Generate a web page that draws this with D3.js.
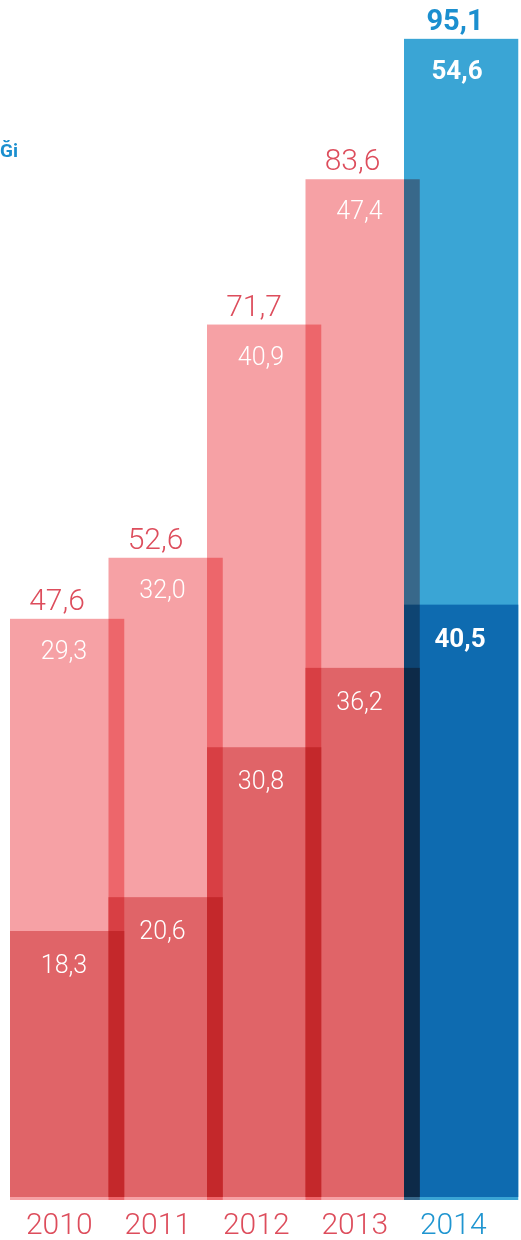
<!DOCTYPE html>
<html>
<head>
<meta charset="utf-8">
<script src="https://cdn.jsdelivr.net/npm/d3@7"></script>
<style>
  body { margin: 0; background: #fff; }
  svg { display: block; font-family: Roboto, "Noto Sans", sans-serif; }
  .bar { mix-blend-mode: multiply; }
  .t_total { font-size: 30px; font-weight: 300; fill: #dd4d5c; text-anchor: middle; }
  .t_inner { font-size: 25px; font-weight: 300; fill: #fff; text-anchor: middle; }
  .t_year { font-size: 30px; font-weight: 300; fill: #dd4d5c; text-anchor: middle; }
  .hl .t_total { font-size: 29px; font-weight: 700; fill: #1b8fcf; }
  .hl .t_inner { font-size: 26px; font-weight: 700; }
  .hl .t_year { fill: #1f95d0; }
  .t_title { font-size: 19px; font-weight: 700; fill: #1b8fcf; text-anchor: end; }
</style>
</head>
<body>
<svg width="521" height="1240"></svg>
<script>
/* ----------------------------------------------------------
data
---------------------------------------------------------- */

var years = ["2010", "2011", "2012", "2013", "2014"];
var totals = [47.6, 52.6, 71.7, 83.6, 95.1];
var upperValues = [29.3, 32.0, 40.9, 47.4, 54.6];
var lowerValues = [18.3, 20.6, 30.8, 36.2, 40.5];
var highlightYear = "2014";

/* ----------------------------------------------------------
setting
---------------------------------------------------------- */

var width = 521;
var height = 1240;
var baseY = 1200;

var colors = {
  light: "#f6a1a5",
  dark: "#e06468",
  lightHl: "#3aa5d5",
  darkHl: "#0e6bb0"
};

var fmt = function(v) { return d3.format(".1f")(v).replace(".", ","); };

var datas = years.map(function(y, i) {
  return { year: y, total: totals[i], upper: upperValues[i], lower: lowerValues[i], hl: y == highlightYear };
});

/* ----------------------------------------------------------
scales
---------------------------------------------------------- */

var x = d3.scaleBand().domain(years).range([10, 502.5]).paddingInner(0).paddingOuter(0);
var barW = x.step() * 1.16;

// total column height
var y = d3.scaleLinear().domain([0, 100]).range([baseY, baseY - 1221]);
// lower segment is drawn on its own (taller) scale, like the original
var yLow = d3.scaleLinear().domain([0, 100]).range([baseY, baseY - 1470]);

/* ----------------------------------------------------------
draw
---------------------------------------------------------- */

var svg = d3.select("svg");

svg.append("text").attr("class", "t_title")
  .attr("x", 18).attr("y", 157).text("Ği");

var bars = svg.append("g").selectAll(".bar")
  .data(datas).enter().append("g")
  .attr("class", "bar")
  .attr("transform", d => "translate(" + x(d.year) + ",0)");

bars.append("rect")
  .attr("x", 0).attr("width", barW)
  .attr("y", d => y(d.total))
  .attr("height", d => baseY - y(d.total))
  .style("fill", d => d.hl ? colors.lightHl : colors.light);

bars.append("rect")
  .attr("x", 0).attr("width", barW)
  .attr("y", d => yLow(d.lower))
  .attr("height", d => baseY - 3 - yLow(d.lower))
  .style("fill", d => d.hl ? colors.darkHl : colors.dark);

//ラベル
var labels = svg.append("g").selectAll(".labels")
  .data(datas).enter().append("g")
  .attr("class", d => d.hl ? "labels hl" : "labels")
  .attr("transform", d => "translate(" + x(d.year) + ",0)");

labels.append("text").attr("class", "t_total")
  .attr("x", d => d.hl ? 51 : 47)
  .attr("y", d => y(d.total) - 9)
  .text(d => fmt(d.total));

labels.append("text").attr("class", "t_inner")
  .attr("x", d => d.hl ? 53 : 54)
  .attr("y", d => y(d.total) + 40)
  .text(d => fmt(d.upper));

labels.append("text").attr("class", "t_inner")
  .attr("x", d => d.hl ? 56 : 54)
  .attr("y", d => yLow(d.lower) + 42)
  .text(d => fmt(d.lower));

labels.append("text").attr("class", "t_year")
  .attr("x", x.step() / 2)
  .attr("y", 1234)
  .text(d => d.year);
</script>
</body>
</html>
